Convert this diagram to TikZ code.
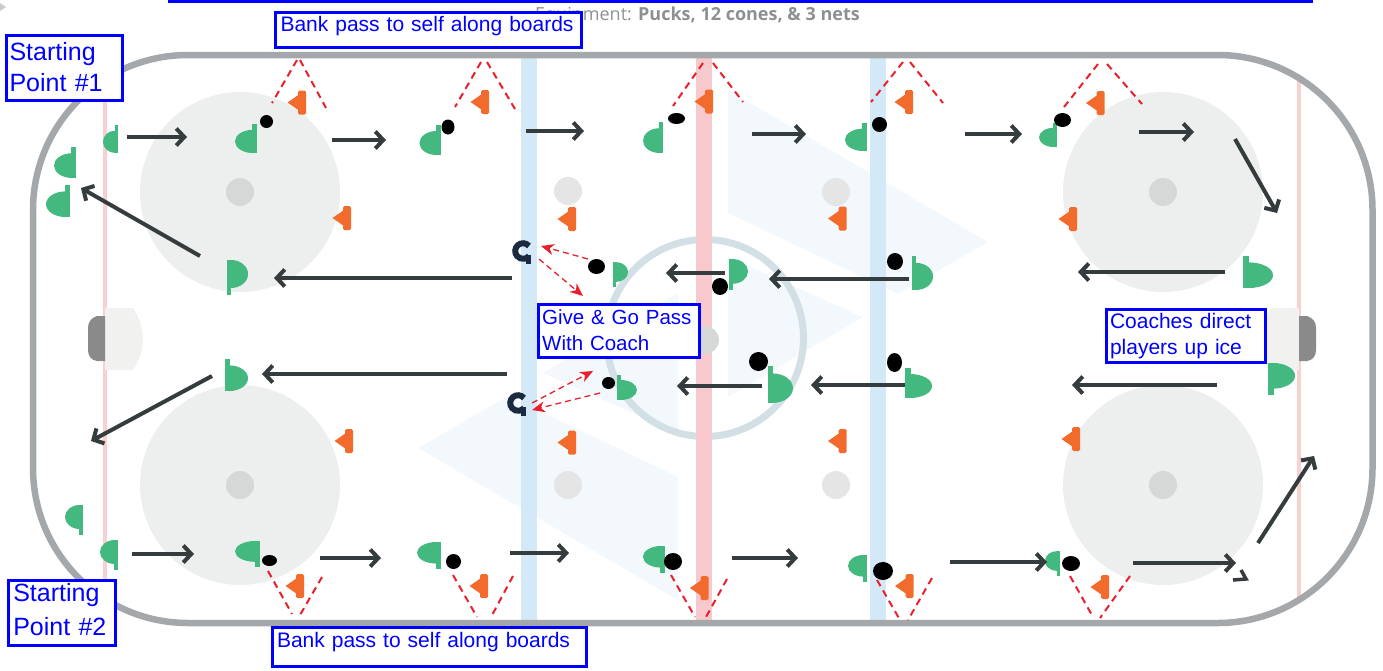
\documentclass[tikz,border=0pt]{standalone}
\usepackage{fontspec}
\setmainfont{Liberation Sans}
\newfontfamily\eqfont{Open Sans}
\usetikzlibrary{arrows.meta}

\definecolor{boards}{HTML}{A5A8AA}
\definecolor{goalln}{HTML}{F9CFD0}
\definecolor{redln}{HTML}{F7C9CC}
\definecolor{blueln}{HTML}{D4E9F7}
\definecolor{circfill}{HTML}{EDEEEE}
\definecolor{dotgray}{HTML}{D6D7D7}
\definecolor{ndot}{HTML}{E5E5E5}
\definecolor{ccirc}{HTML}{D2E0E6}
\definecolor{chev}{HTML}{F3F8FC}
\definecolor{crease}{HTML}{F1F1F0}
\definecolor{netgray}{HTML}{8A8A8A}
\definecolor{plgreen}{HTML}{43B97F}
\definecolor{conecol}{HTML}{F26B2C}
\definecolor{arrdark}{HTML}{353C3E}
\definecolor{passred}{HTML}{E8202C}
\definecolor{coachcol}{HTML}{1B2A40}
\definecolor{boxblue}{HTML}{0000FF}
\definecolor{eqgray}{HTML}{8D9092}
\definecolor{cornergray}{HTML}{C8CACC}

\tikzset{
  skate/.style={draw=arrdark, line width=4pt, -{Straight Barb[length=8pt,width=17pt]}},
  pass/.style={draw=passred, line width=1.3pt, dash pattern=on 6pt off 4pt,
    -{Stealth[length=13pt,width=11pt,inset=4pt]}},
  lane/.style={draw=passred, line width=2pt, dash pattern=on 7pt off 5pt},
  tbox/.style={draw=boxblue, line width=3pt, fill=white, text=boxblue,
    outer sep=0pt, anchor=north west, align=left},
  plshape/.style={fill=plgreen},
  coneshape/.style={fill=conecol}
}

% player marker: centre x, centre y, x scale (negative = facing left), y scale (negative = stick tab below)
\newcommand\plyr[4]{%
  \begin{scope}[shift={(#1,#2)},xscale=#3,yscale=#4]
    \path[plshape] (-12,-15) rectangle (-7,15);
    \path[plshape] (-7.5,15) arc[start angle=90,end angle=-90,x radius=19.5,y radius=12] -- cycle;
  \end{scope}}
\newcommand\conemark[2]{%
  \begin{scope}[shift={(#1,#2)}]
    \path[coneshape, rounded corners=1.5pt] (1,-12) rectangle (9,12);
    \path[coneshape] (-9.5,0) -- (2,-8) -- (2,8) -- cycle;
  \end{scope}}
\newcommand\puckat[4]{\fill[black] (#1,#2) ellipse[x radius=#3,y radius=#4];}
\newcommand\skate[3]{\coordinate (#1-s) at #2; \coordinate (#1-e) at #3; \draw[skate] (#1-s) -- (#1-e);}
\newcommand\passarr[3]{\coordinate (#1-s) at #2; \coordinate (#1-e) at #3; \draw[pass] (#1-s) -- (#1-e);}
\newcommand\lanearr[3]{\coordinate (#1-s) at #2; \coordinate (#1-e) at #3; \draw[lane] (#1-s) -- (#1-e);}
\newcommand\coachmark[3]{%
  \coordinate (#1) at (#2,#3);
  \begin{scope}[shift={(#2,#3)}]
    \draw[coachcol, line width=6pt] (6,-5) arc[start angle=-40,end angle=-320,radius=7.8];
    \fill[coachcol] (3,4) rectangle (7.5,13);
  \end{scope}}

\begin{document}
\begin{tikzpicture}[x=1pt,y=-1pt]
\useasboundingbox (0,0) rectangle (1383,670);

% page header remnants
\fill[cornergray] (0,3) -- (6,7) -- (0,11) -- cycle;
\node[anchor=base west, inner sep=0pt, text=eqgray, font=\eqfont\fontsize{18}{20}\selectfont]
  (equip) at (535,20) {Equipment: \textbf{Pucks, 12 cones, \& 3 nets}};

% ice surface
\begin{scope}
  \clip[rounded corners=155pt] (33,55) rectangle (1372.5,623);
  % faint logo chevrons
  \fill[chev] (728,90) -- (988,242) -- (898,294) -- (728,213) -- cycle;
  \fill[chev] (728,257) -- (863,317) -- (728,397) -- cycle;
  \fill[chev] (678,600) -- (418,448) -- (508,396) -- (678,477) -- cycle;
  \fill[chev] (678,433) -- (543,373) -- (678,293) -- cycle;
  % faceoff circles
  \fill[circfill] (240,192) circle[radius=100];
  \fill[circfill] (240,485) circle[radius=100];
  \fill[circfill] (1163,192) circle[radius=100];
  \fill[circfill] (1163,485) circle[radius=100];
  % centre circle
  \draw[ccirc, line width=7pt] (705,338) circle[radius=98.5];
  % goal lines, blue lines, centre line
  \fill[goalln] (103,40) rectangle (107,640);
  \fill[goalln] (1297,40) rectangle (1301,640);
  \fill[blueln] (521,40) rectangle (537,640);
  \fill[blueln] (870,40) rectangle (886,640);
  \fill[redln] (696,40) rectangle (712,640);
  % faceoff dots
  \fill[dotgray] (240,192) circle[radius=14];
  \fill[dotgray] (240,485) circle[radius=14];
  \fill[dotgray] (1163,192) circle[radius=14];
  \fill[dotgray] (1163,485) circle[radius=14];
  \fill[ndot] (568,191) circle[radius=14];
  \fill[ndot] (568,485) circle[radius=14];
  \fill[ndot] (836,192) circle[radius=14];
  \fill[ndot] (836,485) circle[radius=14];
  \fill[dotgray] (705,340) circle[radius=14];
  % creases and nets
  \fill[crease] (105,308) -- (133,308) .. controls (140,318) and (143,330) .. (143,339)
    .. controls (143,348) and (140,360) .. (133,370) -- (105,370) -- cycle;
  \fill[crease] (1299,308) -- (1271,308) .. controls (1264,318) and (1261,330) .. (1261,339)
    .. controls (1261,348) and (1264,360) .. (1271,370) -- (1299,370) -- cycle;
  \fill[netgray] (105,316) -- (97,316) .. controls (91,318) and (88,322) .. (88,328) -- (88,350)
    .. controls (88,356) and (91,360) .. (97,361) -- (105,361) -- cycle;
  \fill[netgray] (1299,316) -- (1307,316) .. controls (1313,318) and (1316,322) .. (1316,328) -- (1316,350)
    .. controls (1316,356) and (1313,360) .. (1307,361) -- (1299,361) -- cycle;
\end{scope}

% boards
\draw[boards, line width=6.5pt, rounded corners=155pt] (33,55) rectangle (1372.5,623);

% bank-pass lanes off the boards
\lanearr{t1a}{(297,60)}{(272,103)}   \lanearr{t1b}{(300,60)}{(326,108)}
\lanearr{t2a}{(481,62)}{(455,107)}   \lanearr{t2b}{(487,62)}{(515,109)}
\lanearr{t3a}{(703,63)}{(673,106)}   \lanearr{t3b}{(713,63)}{(743,102)}
\lanearr{t4a}{(903,62)}{(871,102)}   \lanearr{t4b}{(910,62)}{(943,103)}
\lanearr{t5a}{(1098,64)}{(1064,107)} \lanearr{t5b}{(1107,64)}{(1142,104)}
\lanearr{b1a}{(268,571)}{(292,614)}  \lanearr{b1b}{(322,577)}{(300,615)}
\lanearr{b2a}{(453,575)}{(477,617)}  \lanearr{b2b}{(513,576)}{(491,617)}
\lanearr{b3a}{(671,575)}{(695,617)}  \lanearr{b3b}{(727,579)}{(706,617)}
\lanearr{b4a}{(877,580)}{(900,620)}  \lanearr{b4b}{(932,578)}{(908,620)}
\lanearr{b5a}{(1070,576)}{(1093,617)} \lanearr{b5b}{(1130,576)}{(1100,618)}

% cones
\conemark{297}{102.5} \conemark{480}{102} \conemark{704}{101.5} \conemark{904}{102} \conemark{1095.5}{103}
\conemark{342}{218} \conemark{567}{219} \conemark{837.5}{218.5} \conemark{1068}{219}
\conemark{344}{441} \conemark{567}{442.5} \conemark{837.5}{441} \conemark{1071}{439}
\conemark{295}{586} \conemark{479}{586} \conemark{699.5}{588} \conemark{904.5}{586} \conemark{1100}{587}

% players
\plyr{110.5}{139}{-0.63}{0.93}
\plyr{246}{138.5}{-0.92}{0.97}
\plyr{430}{140}{-0.88}{1.0}
\plyr{653}{137.5}{-0.83}{1.03}
\plyr{856}{137}{-0.92}{0.93}
\plyr{1048}{135}{-0.75}{0.8}
\plyr{65}{162.5}{-0.92}{1.03}
\plyr{58}{201}{-1.0}{1.07}
\plyr{74}{520}{-0.75}{-1.0}
\plyr{109}{555}{-0.75}{-1.0}
\plyr{247.5}{554}{-1.04}{-0.87}
\plyr{429}{555.5}{-1.0}{-0.9}
\plyr{654}{559.5}{-0.92}{-0.9}
\plyr{857.5}{568.5}{-0.79}{-0.9}
\plyr{1052.5}{563.5}{-0.63}{-0.83}
\plyr{237.5}{277.5}{0.88}{-1.17}
\plyr{236.5}{375}{0.96}{1.07}
\plyr{620.5}{274.5}{0.63}{-0.83}
\plyr{627}{387.5}{0.83}{0.83}
\plyr{738.5}{274.5}{0.79}{-1.03}
\plyr{780.5}{384.5}{1.04}{1.23}
\plyr{922.5}{273}{0.88}{1.13}
\plyr{918.5}{383}{1.13}{1.0}
\plyr{1258}{272}{1.25}{1.07}
\plyr{1281.5}{379}{1.13}{-1.07}

% pucks
\puckat{266.5}{121.5}{6.5}{6.5}
\puckat{448}{127}{6.5}{7.5}
\puckat{676.5}{118.5}{8.5}{5.5}
\puckat{879.5}{124.5}{7.5}{7.5}
\puckat{1062.5}{120}{8.5}{7}
\puckat{596.5}{266.5}{8.5}{7.5}
\puckat{720}{286.5}{8}{8.5}
\puckat{895}{261.5}{8}{8.5}
\puckat{758.5}{361.5}{9.5}{9.5}
\puckat{894.5}{362.5}{7.5}{9.5}
\puckat{608.5}{383}{6.5}{6}
\puckat{269.5}{560.5}{7.5}{5.5}
\puckat{453.5}{561.5}{7.5}{7.5}
\puckat{673}{561.5}{9}{8.5}
\puckat{883}{571}{10}{9}
\puckat{1071}{563.5}{9}{7.5}

% coaches
\coachmark{coachA}{523}{251}
\coachmark{coachB}{518}{403}

% give-and-go passes
\passarr{g1}{(588,259)}{(541,246)}
\passarr{g2}{(539,259)}{(583,296)}
\passarr{g3}{(600,393)}{(532,410)}
\passarr{g4}{(532,403)}{(593,371)}

% skating routes
\skate{a1}{(127,137)}{(187,137)}
\skate{a2}{(332,140)}{(386,140)}
\skate{a3}{(526,131)}{(584,131)}
\skate{a4}{(752,134)}{(806,134)}
\skate{a5}{(965,134)}{(1022,134)}
\skate{a6}{(1139,132)}{(1194,132)}
\skate{a7}{(1235,139)}{(1277,213)}
\skate{a8}{(200,256)}{(81,188)}
\skate{a9}{(512,278)}{(274,278)}
\skate{a10}{(725,273)}{(666,273)}
\skate{a11}{(909,279)}{(769,279)}
\skate{a12}{(1225,272)}{(1078,272)}
\skate{a13}{(507,374)}{(262,374)}
\skate{a14}{(762,386)}{(677,386)}
\skate{a15}{(905,385)}{(811,385)}
\skate{a16}{(1217,385)}{(1072,385)}
\skate{a17}{(212,376)}{(91,441)}
\skate{a18}{(132,554)}{(194,554)}
\skate{a19}{(320,558)}{(381,558)}
\skate{a20}{(510,553)}{(569,553)}
\skate{a21}{(732,558)}{(798,558)}
\skate{a22}{(950,562)}{(1047,562)}
\skate{a23}{(1133,563)}{(1236,563)}
\skate{a24}{(1258,543)}{(1314,456)}
\draw[arrdark, line width=3.5pt] (1241,570) -- (1246,579) -- (1233,580);

% labels
\node[tbox, text width=110pt, inner xsep=3pt, inner ysep=4pt, text height=20.5pt, text depth=36.5pt,
  font=\fontsize{25}{31}\selectfont] (sp1) at (6.5,35.5) {Starting\\Point \#1};
\node[tbox, text width=97.4pt, inner xsep=4.5pt, inner ysep=4pt, text height=17.2pt, text depth=39.5pt,
  font=\fontsize{25}{34}\selectfont] (sp2) at (8.8,580.5) {Starting\\Point \#2};
\node[tbox, text width=296pt, inner xsep=5pt, inner ysep=3pt, text height=16.2pt, text depth=13.1pt,
  font=\fontsize{21}{25}\selectfont] (bank1) at (275.5,12.5) {Bank pass to self along boards};
\node[tbox, text width=305pt, inner xsep=4.5pt, inner ysep=3pt, text height=16.5pt, text depth=16.5pt,
  font=\fontsize{21}{25}\selectfont] (bank2) at (272.5,627.5) {Bank pass to self along boards};
\node[tbox, text width=153.3pt, inner xsep=4pt, inner ysep=3pt, text height=16.2pt, text depth=30.8pt,
  font=\fontsize{20.5}{26}\selectfont] (give) at (538.2,304.8) {Give \& Go Pass\\With Coach};
\node[tbox, text width=151.7pt, inner xsep=3.5pt, inner ysep=3pt, text height=16.1pt, text depth=31.2pt,
  font=\fontsize{21}{25.7}\selectfont] (coaches) at (1106.5,309.2) {Coaches direct\\players up ice};
\node[draw=boxblue, line width=3pt, outer sep=0pt, inner sep=0pt, anchor=south west,
  minimum width=1142pt, minimum height=40pt] (header) at (169.5,1.5) {};
\end{tikzpicture}
\end{document}
